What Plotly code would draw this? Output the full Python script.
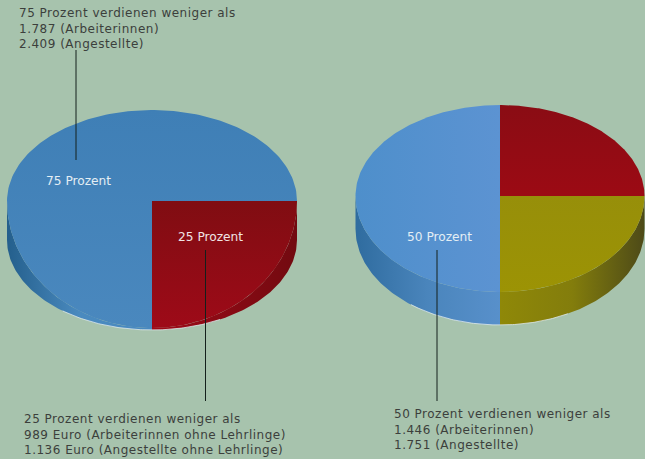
import numpy as np
import plotly.graph_objects as go

# ---- data ----
left_labels = ["25 Prozent", "75 Prozent"]
left_values = [25, 75]
right_labels = ["Rot", "Oliv", "50 Prozent"]
right_values = [25, 25, 50]

text_left_top = ["75 Prozent verdienen weniger als", "1.787 (Arbeiterinnen)", "2.409 (Angestellte)"]
text_left_bottom = ["25 Prozent verdienen weniger als", "989 Euro (Arbeiterinnen ohne Lehrlinge)", "1.136 Euro (Angestellte ohne Lehrlinge)"]
text_right_bottom = ["50 Prozent verdienen weniger als", "1.446 (Arbeiterinnen)", "1.751 (Angestellte)"]

# ---- styles ----
BG = "#A7C3AD"
FONT = "DejaVu Sans"
INK = "#3C3F3C"
W, H = 645, 459

L_TOP = [("vertical", "#9E0A18", "#800D12"), ("vertical", "#4A88BE", "#3F7FB6")]
L_WALL = [("horizontal", "#A00A18", "#720A10"), ("horizontal", "#245F8C", "#4A8ABF", "#4A8ABF")]
R_TOP = [("vertical", "#9C0A14", "#8A0C14"), ("vertical", "#9C9304", "#978F0A"), ("horizontal", "#4E8FCB", "#5C93D2")]
R_WALL = [("horizontal", "#800A12", "#600A0E"), ("horizontal", "#8F8808", "#837D0C", "#4D4A18"), ("horizontal", "#2F6C9F", "#4A85BC", "#5890CB")]

fig = go.Figure()


def add_poly(x, y, style):
    kind, *cols = style
    stops = [[i / (len(cols) - 1), c] for i, c in enumerate(cols)]
    fig.add_trace(go.Scatter(
        x=x, y=y, mode="lines", fill="toself", line=dict(width=0),
        fillcolor=cols[0],
        fillgradient=dict(type=kind, colorscale=stops),
        hoverinfo="skip", showlegend=False))


def arc(cx, cy, rx, ry_back, ry_front, a0, a1, n=90):
    """Clockwise angle in degrees, 0 = east, 90 = south on the page."""
    t = np.radians(np.linspace(a0, a1, n))
    s = np.sin(t)
    ry = np.where(s >= 0, ry_front, ry_back)
    return cx + rx * np.cos(t), cy + ry * s


def draw_pie(values, start, cx, cy, rx, ry_back, ry_front, ry_low, depth, tops, walls):
    total = sum(values)
    spans = []
    a = start
    for v in values:
        spans.append((a, a + 360 * v / total))
        a += 360 * v / total
    # side wall: only the front half (0..180 degrees) is visible
    for (a0, a1), st in zip(spans, walls):
        for shift in (0, 360):
            b0, b1 = max(a0 - shift, 0), min(a1 - shift, 180)
            if b1 > b0:
                xo, yo = arc(cx, cy + depth, rx, ry_back, ry_low, b0, b1)
                xi, yi = arc(cx, cy, rx, ry_back, ry_front, b1, b0)
                add_poly(np.r_[xo, xi], np.r_[yo, yi], st)
    # top face
    for (a0, a1), st in zip(spans, tops):
        xa, ya = arc(cx, cy, rx, ry_back, ry_front, a0, a1, 180)
        add_poly(np.r_[cx, xa, cx], np.r_[cy, ya, cy], st)
    # pale rim at the lower front edge
    xr, yr = arc(cx, cy + depth, rx, ry_back, ry_low, 62, 128)
    fig.add_trace(go.Scatter(x=xr, y=yr, mode="lines",
                             line=dict(color="rgba(225,235,240,0.75)", width=1),
                             hoverinfo="skip", showlegend=False))


draw_pie(left_values, 0, 152, 201, 145, 91, 127, 90, 39, L_TOP, L_WALL)
draw_pie(right_values, -90, 500, 196, 144.5, 91, 96, 96, 33, R_TOP, R_WALL)

# leader lines
for lx, ly in [((76, 76), (50, 160)), ((205.5, 205.5), (250, 401)), ((437, 437), (250, 401))]:
    fig.add_trace(go.Scatter(x=lx, y=ly, mode="lines", line=dict(color="#14201C", width=1),
                             hoverinfo="skip", showlegend=False))


def note(x, y, lines, color=INK, size=12):
    fig.add_annotation(x=x, y=y, text="<br>".join(lines), showarrow=False, align="left",
                       xanchor="left", yanchor="top", borderpad=0,
                       font=dict(family=FONT, size=size, color=color))


note(18, 5, text_left_top)
note(23, 411, text_left_bottom)
note(393, 406, text_right_bottom)
note(45, 173, [left_labels[1]], color="#E4EEF4", size=12.2)
note(177, 229, [left_labels[0]], color="#F0E4E4", size=12.2)
note(406, 229, [right_labels[2]], color="#E4EEF4", size=12.2)

fig.update_xaxes(range=[0, W], visible=False, fixedrange=True)
fig.update_yaxes(range=[H, 0], visible=False, fixedrange=True)
fig.update_layout(width=W, height=H, margin=dict(l=0, r=0, t=0, b=0),
                  paper_bgcolor=BG, plot_bgcolor=BG, showlegend=False)

PAGE_JS = (
    "document.body.style.margin='0';"
    "document.body.style.background='" + BG + "';"
    "document.querySelectorAll('.annotation-text').forEach(function(t){"
    "if(t.textContent.length>12){t.style.letterSpacing='0.5px';}});"
)
fig.write_html("out.html", config={"displayModeBar": False}, post_script=PAGE_JS)
